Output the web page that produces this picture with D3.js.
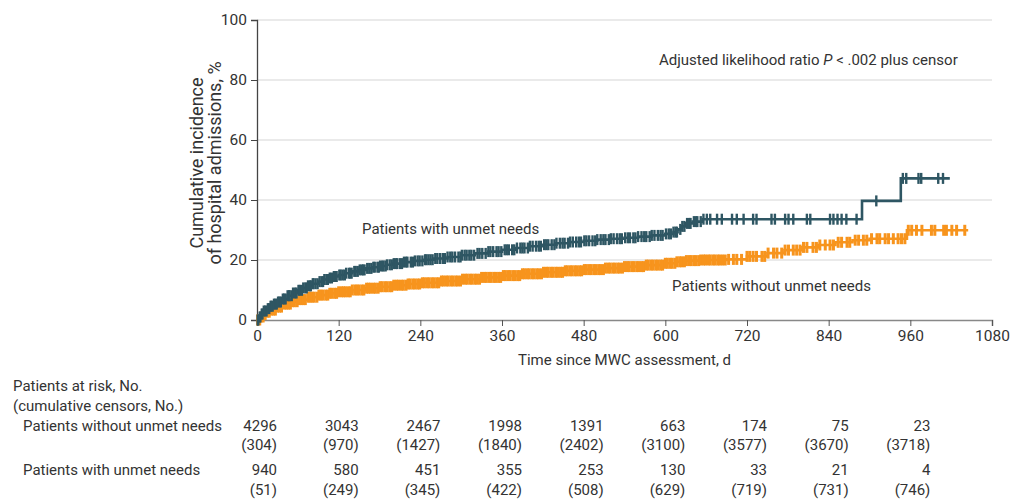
<!DOCTYPE html>
<html><head><meta charset="utf-8">
<script src="https://cdn.jsdelivr.net/npm/d3@7"></script>
<style>
html,body{margin:0;padding:0;background:#fff;}
svg text{font-family:Roboto,"Noto Sans",sans-serif;fill:#333;}
</style></head>
<body>
<svg id="chart" width="1013" height="499"></svg>
<script>
// ---------- data ----------
const xTicks = [0,120,240,360,480,600,720,840,960,1080];
const yTicks = [0,20,40,60,80,100];

// Patients without unmet needs (orange)
const withoutTimes = [0,5,10,15,20,30,40,50,60,75,90,105,120,140,160,180,200,220,240,270,300,330,360,390,420,450,480,510,540,570,600,615,630,650,690,720,750,775,800,825,850,875,900,955,1045];
const withoutValues = [0,1.0,1.8,2.6,3.3,4.3,5.3,6.1,6.8,7.6,8.3,8.9,9.4,10.0,10.6,11.1,11.6,12.0,12.4,13.0,13.6,14.2,14.8,15.4,15.9,16.4,16.8,17.3,17.8,18.3,18.9,19.4,19.8,20.0,20.2,21.2,22.3,23.3,24.2,25.0,25.9,26.6,27.1,29.9,29.9];
const withoutCensors = [1,4,6,9,12,15,18,21,24,27,30,33,36,40,43,46,49,52,55,59,62,65,68,71,75,78,81,84,88,91,94,97,101,104,107,110,114,117,120,124,127,130,134,137,140,144,147,150,154,157,161,164,167,171,174,178,181,184,188,191,195,198,201,205,208,212,215,219,222,225,229,232,236,239,243,246,250,253,257,260,264,267,271,274,278,281,285,288,292,295,299,302,306,309,313,316,320,323,327,330,334,337,341,344,348,351,355,358,362,365,369,372,376,379,383,386,390,393,397,400,404,407,411,414,418,421,425,428,432,435,439,442,446,449,453,456,460,463,467,470,474,477,481,484,488,491,495,498,502,505,509,512,516,519,523,526,530,533,537,540,544,547,551,554,558,561,565,568,572,575,579,582,586,589,593,596,600,603,607,610,614,617,621,624,628,631,635,638,642,645,649,652,656,659,663,666,670,673,677,680,684,
688,693,700,705,712,720,724,729,734,742,746,751,759,764,771,776,781,788,793,798,803,808,817,822,827,835,842,847,854,859,867,871,879,884,891,896,903,911,915,923,928,935,942,947,952,957,962,969,977,991,996,1009,1013,1021,1028,1040];

// Patients with unmet needs (dark teal)
const withTimes = [0,3,6,10,15,20,25,30,37,45,52,60,68,75,82,90,98,105,112,120,130,140,150,160,170,180,190,200,215,230,245,260,280,300,320,340,360,380,400,420,440,460,480,500,520,540,560,580,600,612,618,624,630,640,655,889,946,1018];
const withValues = [0,1,2,3,3.8,4.6,5.3,6,7,8.1,9,9.9,10.7,11.4,12.1,12.8,13.5,14.0,14.5,15.0,15.6,16.2,16.7,17.2,17.6,18,18.4,18.8,19.3,19.7,20.1,20.5,21.0,21.6,22.2,22.8,23.4,24.0,24.6,25.1,25.6,26.0,26.4,26.8,27.1,27.4,27.8,28.2,28.7,29.3,30.2,31.2,32.2,32.8,33.6,39.7,47.2,47.2];
const withCensors = [1,2,4,5,7,8,10,12,14,16,18,20,21,23,25,27,29,31,33,35,38,40,42,45,47,48,51,53,56,58,61,63,66,68,71,73,75,78,79,82,83,86,89,92,95,97,99,102,104,107,110,113,115,117,121,123,126,129,131,135,137,139,143,145,148,151,154,156,158,162,165,168,171,173,177,179,181,184,186,189,191,195,198,201,204,206,210,213,216,219,221,226,229,232,236,239,243,247,249,252,255,258,262,265,269,273,276,280,284,287,291,296,299,301,305,308,312,315,319,324,327,331,336,340,343,347,352,355,359,364,367,370,375,378,382,387,390,393,398,401,405,410,414,417,422,425,428,433,437,440,445,449,452,457,460,464,469,473,476,481,484,488,493,497,500,505,509,512,517,520,524,529,533,536,541,545,548,553,556,560,565,569,572,577,580,584,589,593,596,601,605,608,612,615,617,622,625,628,632,635,637,642,645,647,652,656,661,666,
676,683,698,705,715,729,734,756,761,776,781,788,808,813,842,847,853,859,866,881,910,949,954,972,976,1001,1008];

// Number at risk table
const riskWithout = [4296,3043,2467,1998,1391,663,174,75,23];
const censWithout = [304,970,1427,1840,2402,3100,3577,3670,3718];
const riskWith = [940,580,451,355,253,130,33,21,4];
const censWith = [51,249,345,422,508,629,719,731,746];

// ---------- drawing ----------
const svg = d3.select("#chart");
const x = d3.scaleLinear().domain([0,1080]).range([257,992]);
const y = d3.scaleLinear().domain([0,100]).range([320,20]);
const DARK = "#2e5663", ORANGE = "#f7941d";
const FS = "15px";

// gridlines
svg.append("g").selectAll("line").data(yTicks.filter(d=>d>0)).join("line")
  .attr("x1", x(0)).attr("x2", x(1080))
  .attr("y1", d=>y(d)).attr("y2", d=>y(d))
  .attr("stroke", "#e3e3e3").attr("stroke-width", 1.6);

// axes
const yAxis = svg.append("g").attr("transform", `translate(${x(0)},0)`)
  .call(d3.axisLeft(y).tickValues(yTicks).tickSize(6).tickPadding(4).tickFormat(d3.format("d")));
yAxis.select(".domain").attr("stroke", "#444").attr("stroke-width", 1.3);
yAxis.selectAll(".tick line").attr("stroke", "#444");
yAxis.selectAll("text").style("font-size", "15.5px").attr("fill", "#333");

const xAxis = svg.append("g").attr("transform", `translate(0,${y(0)})`)
  .call(d3.axisBottom(x).tickValues(xTicks).tickSize(6).tickPadding(4).tickFormat(d3.format("d")));
xAxis.select(".domain").attr("stroke", "#888").attr("stroke-width", 1.6);
xAxis.selectAll(".tick line").attr("stroke", "#555");
xAxis.selectAll("text").style("font-size", "15.5px").attr("fill", "#333");

// curves
function drawSeries(times, values, censors, color, mw) {
  const pts = times.map((t,i)=>[t, values[i]]);
  svg.append("path").datum(pts)
    .attr("fill","none").attr("stroke",color).attr("stroke-width",2.6)
    .attr("d", d3.line().x(d=>x(d[0])).y(d=>y(d[1])).curve(d3.curveStepAfter));
  const valAt = t => { let v = values[0]; for (let i=0;i<times.length;i++){ if (times[i] <= t) v = values[i]; } return v; };
  svg.append("g").selectAll("line").data(censors).join("line")
    .attr("x1", d=>x(d)).attr("x2", d=>x(d))
    .attr("y1", d=>y(valAt(d))-5.5).attr("y2", d=>y(valAt(d))+5.5)
    .attr("stroke", color).attr("stroke-width", mw);
}
drawSeries(withoutTimes, withoutValues, withoutCensors, ORANGE, 3);
drawSeries(withTimes, withValues, withCensors, DARK, 2.4);

// labels
svg.append("text").attr("x",362).attr("y",234).style("font-size",FS).text("Patients with unmet needs");
svg.append("text").attr("x",672).attr("y",291).style("font-size",FS).text("Patients without unmet needs");
const ann = svg.append("text").attr("x",659).attr("y",65).style("font-size",FS);
ann.append("tspan").text("Adjusted likelihood ratio ");
ann.append("tspan").attr("font-style","italic").text("P");
ann.append("tspan").text(" < .002 plus censor");

// axis titles
const yt = svg.append("text").attr("transform","translate(0,163) rotate(-90)").attr("text-anchor","middle").style("font-size","18px");
yt.append("tspan").attr("x",0).attr("y",203).text("Cumulative incidence");
yt.append("tspan").attr("x",0).attr("y",221).text("of hospital admissions, %");
svg.append("text").attr("x", (x(0)+x(1080))/2).attr("y",365).attr("text-anchor","middle").style("font-size",FS).text("Time since MWC assessment, d");

// risk table
svg.append("text").attr("x",13).attr("y",391).style("font-size",FS).text("Patients at risk, No.");
svg.append("text").attr("x",13).attr("y",411).style("font-size",FS).text("(cumulative censors, No.)");
svg.append("text").attr("x",23).attr("y",431).style("font-size",FS).text("Patients without unmet needs");
svg.append("text").attr("x",23).attr("y",475).style("font-size",FS).text("Patients with unmet needs");
function row(vals, yy, paren) {
  svg.append("g").selectAll("text").data(vals).join("text")
    .attr("x", (d,i)=>x(xTicks[i]) + 20).attr("y", yy).attr("text-anchor","end")
    .style("font-size",FS).text(d => paren ? `(${d})` : d);
}
row(riskWithout, 431, false);
row(censWithout, 450, true);
row(riskWith, 475, false);
row(censWith, 495, true);
</script>
</body></html>
